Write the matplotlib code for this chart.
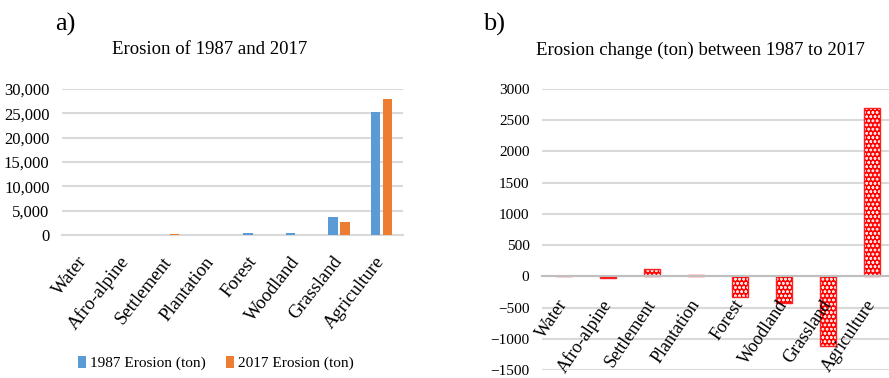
import matplotlib
matplotlib.use("Agg")
import matplotlib.pyplot as plt
import numpy as np
from matplotlib.ticker import FuncFormatter

categories = ["Water", "Afro-alpine", "Settlement", "Plantation", "Forest",
              "Woodland", "Grassland", "Agriculture"]
erosion_1987 = [0, 20, 5, 5, 350, 500, 3800, 25200]
erosion_2017 = [0, 0, 115, 25, 15, 65, 2685, 27890]
erosion_change = [0, -20, 110, 20, -335, -435, -1115, 2690]

left_yticks = [0, 5000, 10000, 15000, 20000, 25000, 30000]
right_yticks = [-1500, -1000, -500, 0, 500, 1000, 1500, 2000, 2500, 3000]

plt.rcParams['font.family'] = ['Liberation Serif', 'DejaVu Serif']
plt.rcParams['hatch.linewidth'] = 0.7

W, H = 889, 378
fig = plt.figure(figsize=(W / 100, H / 100), dpi=100)

def frac(x0, y0, x1, y1):
    return [x0 / W, 1 - y1 / H, (x1 - x0) / W, (y1 - y0) / H]

grid_c = "#d9d9d9"
x = np.arange(len(categories))

# ---------- left chart ----------
ax1 = fig.add_axes(frac(62, 89, 403, 235))
ax1.set_xlim(-0.5, len(categories) - 0.5)
ax1.set_ylim(0, 30000)
b1 = ax1.bar(x - 0.14, erosion_1987, width=0.22, color="#5b9bd5", label="1987 Erosion (ton)", zorder=3)
b2 = ax1.bar(x + 0.14, erosion_2017, width=0.22, color="#ed7d31", label="2017 Erosion (ton)", zorder=3)
ax1.set_yticks(left_yticks)
ax1.yaxis.set_major_formatter(FuncFormatter(lambda v, p: f"{int(v):,}"))
ax1.grid(axis="y", color=grid_c, linewidth=1.5, zorder=0)
ax1.set_axisbelow(True)
for s in ["top", "right", "left"]:
    ax1.spines[s].set_visible(False)
ax1.spines["bottom"].set_color(grid_c)
ax1.spines["bottom"].set_linewidth(1.5)
ax1.tick_params(axis="both", length=0)
ax1.tick_params(axis="y", pad=9, labelsize=12)
ax1.tick_params(axis="x", pad=17, labelsize=13.5)
ax1.set_xticks(x)
ax1.set_xticklabels(categories, rotation=52, ha="right", va="center", rotation_mode="anchor")

fig.text(210 / W, 1 - 50 / H, "Erosion of 1987 and 2017", ha="center", va="center", fontsize=13.5)
fig.text(55 / W, 1 - 24 / H, "a)", ha="left", va="center", fontsize=19)

fig.legend(handles=[b1, b2], loc="center", bbox_to_anchor=(216 / W, 1 - 363 / H), ncol=2,
           frameon=False, fontsize=11, handlelength=0.5, handleheight=0.8,
           handletextpad=0.3, columnspacing=1.3)

# ---------- right chart ----------
ax2 = fig.add_axes(frac(542, 89, 894, 370))
ax2.set_xlim(-0.5, len(categories) - 0.5)
ax2.set_ylim(-1500, 3000)
ax2.bar(x, erosion_change, width=0.36, color="#ff0000", edgecolor="#ffe0e0",
        hatch="oooo", linewidth=0, zorder=3)
ax2.bar(x, erosion_change, width=0.36, fill=False, edgecolor="#ff2020",
        linewidth=1.0, zorder=4)
ax2.set_yticks(right_yticks)
ax2.grid(axis="y", color=grid_c, linewidth=1.5)
ax2.set_axisbelow(True)
ax2.xaxis.set_zorder(10)
for s in ["top", "right", "left"]:
    ax2.spines[s].set_visible(False)
ax2.spines["bottom"].set_position(("data", 0))
ax2.spines["bottom"].set_color("#bfbfbf")
ax2.spines["bottom"].set_linewidth(1.5)
ax2.spines["bottom"].set_zorder(5)
ax2.tick_params(axis="both", length=0)
ax2.tick_params(axis="y", pad=9, labelsize=11)
ax2.tick_params(axis="x", pad=18, labelsize=13)
ax2.set_xticks(x)
ax2.set_xticklabels(categories, rotation=56, ha="right", va="center", rotation_mode="anchor")

fig.text(700 / W, 1 - 50 / H, "Erosion change (ton) between 1987 to 2017", ha="center", va="center", fontsize=13.5)
fig.text(483 / W, 1 - 24 / H, "b)", ha="left", va="center", fontsize=19)

fig.savefig("out.png", dpi=100)
